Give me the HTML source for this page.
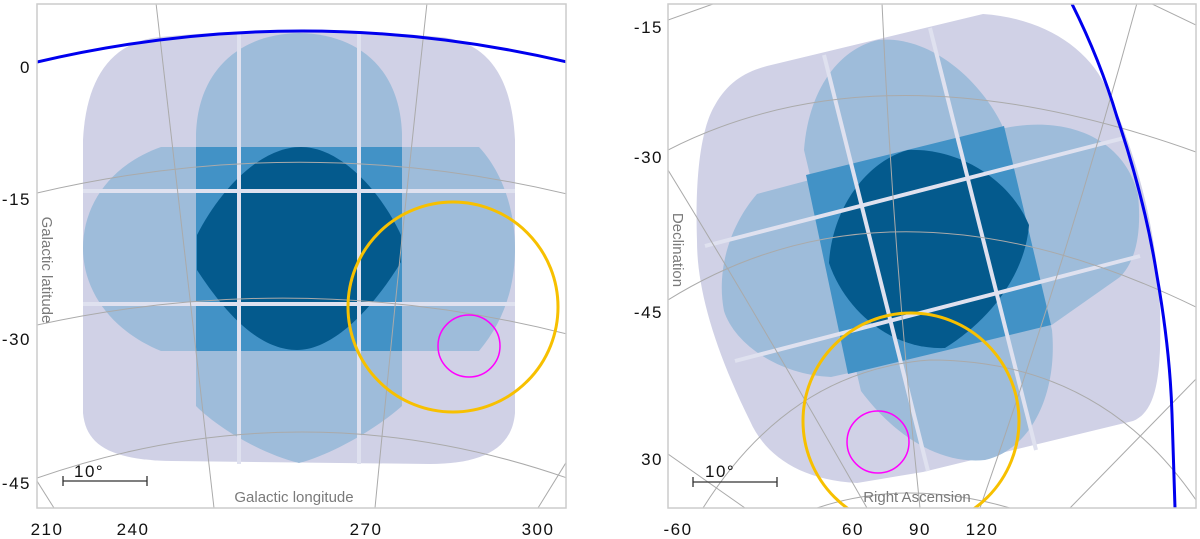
<!DOCTYPE html>
<html><head><meta charset="utf-8"><style>
body{margin:0;background:#fff;width:1200px;height:539px;overflow:hidden;font-family:"Liberation Sans","DejaVu Sans",sans-serif}
svg{display:block}
.tk{font-size:17px;fill:#111;letter-spacing:1.5px}
.ttl{font-size:15px;fill:#7a7a7a}
</style></head><body>
<svg id="chart" width="1200" height="539" viewBox="0 0 1200 539">
<defs>
<clipPath id="cl"><rect x="37" y="4" width="529" height="504"/></clipPath>
<clipPath id="cr"><rect x="668" y="4" width="528" height="504"/></clipPath>
</defs>
<!-- LEFT PANEL -->
<g clip-path="url(#cl)">
<path fill="#d0d1e6" d="M83,140 C86,80 110,42 160,37 Q300,24 440,37 C490,42 512,80 515,140 L515,413 C512,450 480,464 430,464 L172,461 C110,460 86,445 83,413 Z"/>
<path fill="#9ebcda" d="M196,134 C198,70 240,34 299,33 C360,34 400,70 402,134 L402,406 C375,430 330,455 299,463 C265,455 220,430 196,406 Z"/>
<path fill="#9ebcda" d="M161,147 L479,147 C505,175 515,215 515,248 C515,285 505,320 479,351 L161,351 C110,330 83,290 83,248 C83,205 110,165 161,147 Z"/>
<rect x="196" y="147" width="206" height="204" fill="#4292c6"/>
<path fill="#045a8d" d="M301,147 C340,147 380,190 401,235 L401,262 C375,305 335,350 297,350 C255,350 220,305 197,270 L197,235 C220,190 260,147 301,147 Z"/>
<g stroke="#dfe1ef" stroke-width="4">
<line x1="239" y1="33" x2="239" y2="464"/><line x1="359" y1="33" x2="359" y2="464"/>
<line x1="83" y1="191" x2="515" y2="191"/><line x1="83" y1="304" x2="515" y2="304"/>
</g>
<g fill="none" stroke="#aaa" stroke-width="1">
<path d="M156,3 Q185,250 214,508"/><path d="M427,3 Q400,250 375,508"/>
<path d="M567,461 L538,508"/><path d="M37,481 L54,508"/>
<path d="M37,193 Q302,131 567,194"/><path d="M37,325 Q302,267 567,334"/><path d="M37,478 Q302,386 567,478"/>
</g>
<path d="M37,62 Q302,0 567,62" fill="none" stroke="#0000ee" stroke-width="3"/>
<g id="circL"></g>
</g>
<rect x="37" y="4" width="529" height="504" fill="none" stroke="#ccc" stroke-width="1.5"/>
<text class="ttl" transform="translate(42,270) rotate(90)" text-anchor="middle">Galactic latitude</text>
<text class="ttl" x="294" y="502" text-anchor="middle">Galactic longitude</text>
<g stroke="#333" stroke-width="1.3"><line x1="63" y1="481" x2="147" y2="481"/><line x1="63" y1="476" x2="63" y2="486"/><line x1="147" y1="476" x2="147" y2="486"/></g>
<text class="tk" x="74" y="477">10°</text>
<!-- RIGHT PANEL -->
<g clip-path="url(#cr)">
<path fill="#d0d1e6" d="M767,66 L983,14 C1040,18 1085,45 1105,85 C1140,160 1158,240 1160,310 C1162,380 1155,412 1133,421 L923,472 L857,483 C800,480 765,455 750,421 C715,350 697,290 697,241 C695,180 700,130 715,105 C728,82 745,72 767,66 Z"/>
<path fill="#9ebcda" d="M804,150 C808,95 835,50 878,40 C930,35 980,80 1002,125 L1052,330 C1058,395 1030,450 985,460 C935,465 890,430 861,391 Z"/>
<path fill="#9ebcda" d="M757,194 L1005,128 C1070,115 1125,140 1138,195 C1142,235 1135,262 1120,277 L1046,329 L831,377 C780,375 735,345 724,311 C716,270 730,225 757,194 Z"/>
<path fill="#4292c6" d="M806,175 L1004,126 L1051,325 L848,374 Z"/>
<path fill="#045a8d" d="M908,150 C960,148 1010,180 1029,225 C1025,275 990,320 945,348 C890,350 845,310 829,263 C832,210 865,162 908,150 Z"/>
<g stroke="#dfe1ef" stroke-width="4">
<line x1="824" y1="55" x2="928" y2="471"/><line x1="930" y1="28" x2="1036" y2="450"/>
<line x1="705" y1="246" x2="1124" y2="138"/><line x1="735" y1="361" x2="1140" y2="256"/>
</g>
<g fill="none" stroke="#aaa" stroke-width="1">
<path d="M882,3 Q893,250 920,508"/><path d="M1137,3 Q1070,250 980,508"/>
<path d="M668,170 Q760,320 867,508"/>
<path d="M668,150 Q883,40 1196,152"/><path d="M668,300 Q893,160 1196,307"/>
<path d="M703,508 Q790,370 930,360 Q1100,360 1196,500"/>
<path d="M817,508 Q907,478 1010,508"/>
<path d="M668,20 L713,4"/><path d="M1150,3 L1196,25"/><path d="M1196,379 L1070,508"/>
<path d="M668,454 L745,508"/>
</g>
<path d="M1072,4 Q1100,60 1117,117 Q1145,200 1157,276 Q1170,350 1172,414 L1175,508" fill="none" stroke="#0000ee" stroke-width="3"/>
<g id="circR"></g>
</g>
<rect x="668" y="4" width="528" height="504" fill="none" stroke="#ccc" stroke-width="1.5"/>
<text class="ttl" transform="translate(673,250) rotate(90)" text-anchor="middle">Declination</text>
<text class="ttl" x="917" y="502" text-anchor="middle">Right Ascension</text>
<g stroke="#333" stroke-width="1.3"><line x1="693" y1="482" x2="777" y2="482"/><line x1="693" y1="477" x2="693" y2="487"/><line x1="777" y1="477" x2="777" y2="487"/></g>
<text class="tk" x="705" y="477">10°</text>
<g id="ticks"></g>
</svg>
<script>
const leftYLabels=["0","-15","-30","-45"];
const leftYPos=[67,199,339,483];
const leftXLabels=["210","240","270","300"];
const leftXPos=[47,133,366,538];
const rightYLabels=["-15","-30","-45","30"];
const rightYPos=[27,157,312,459];
const rightXLabels=["-60","60","90","120"];
const rightXPos=[678,853,920,982];
const circleNames=["yellow-region","magenta-region"];
const leftCircleCx=[453,469];
const leftCircleCy=[307,346];
const leftCircleR=[105,31];
const rightCircleCx=[911,878];
const rightCircleCy=[421,442];
const rightCircleR=[108,31];
const circleColors=["#f7c000","#ff00ff"];
const circleWidths=[3,1.5];
const NS="http://www.w3.org/2000/svg";
const tk=document.getElementById('ticks');
function lab(txt,x,y,anchor,name){
  const t=document.createElementNS(NS,'text');
  t.setAttribute('class','tk');t.setAttribute('x',x);t.setAttribute('y',y);t.setAttribute('text-anchor',anchor);
  
  
  t.textContent=txt;tk.appendChild(t);
}
leftYLabels.forEach((s,i)=>lab(s,31,leftYPos[i]+6,'end','left-y-tick-'+i));
leftXLabels.forEach((s,i)=>lab(s,leftXPos[i],535,'middle','left-x-tick-'+i));
rightYLabels.forEach((s,i)=>lab(s,663,rightYPos[i]+6,'end','right-y-tick-'+i));
rightXLabels.forEach((s,i)=>lab(s,rightXPos[i],535,'middle','right-x-tick-'+i));
function circ(g,cx,cy,r,i,side){
  const c=document.createElementNS(NS,'circle');
  c.setAttribute('cx',cx);c.setAttribute('cy',cy);c.setAttribute('r',r);
  c.setAttribute('fill','none');c.setAttribute('stroke',circleColors[i]);c.setAttribute('stroke-width',circleWidths[i]);
  
  
  g.appendChild(c);
}
const gl=document.getElementById('circL'),gr=document.getElementById('circR');
for(let i=0;i<circleNames.length;i++){
  circ(gl,leftCircleCx[i],leftCircleCy[i],leftCircleR[i],i,'left');
  circ(gr,rightCircleCx[i],rightCircleCy[i],rightCircleR[i],i,'right');
}
</script>
</body></html>
